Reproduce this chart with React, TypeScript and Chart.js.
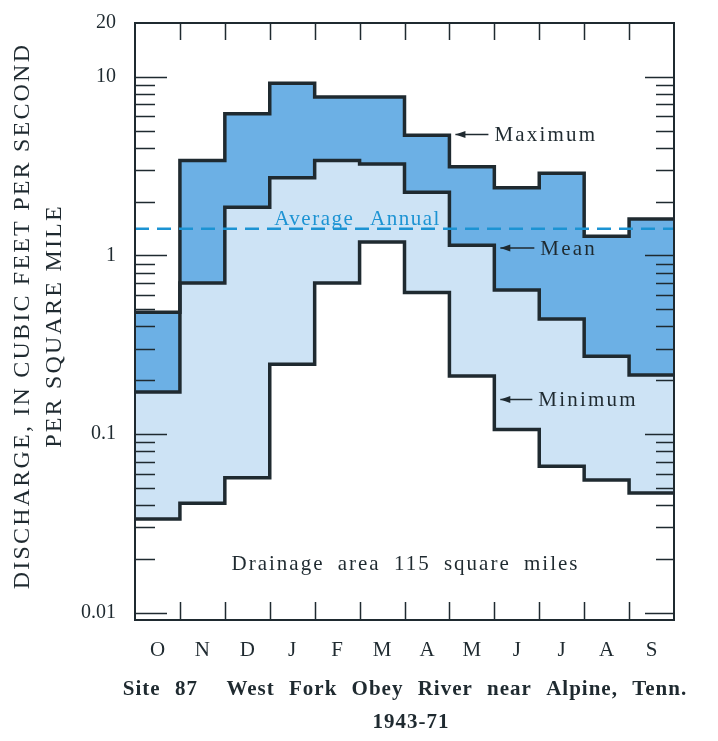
import React, { useEffect, useRef } from "react";
import { Chart, registerables } from "chart.js";

Chart.register(...registerables);

const months = ["O", "N", "D", "J", "F", "M", "A", "M", "J", "J", "A", "S"];
const maximum = [0.48, 3.4, 6.2, 9.2, 7.7, 7.7, 4.7, 3.14, 2.39, 2.88, 1.28, 1.6];
const mean = [0.172, 0.7, 1.86, 2.72, 3.4, 3.25, 2.26, 1.14, 0.64, 0.44, 0.273, 0.214];
const minimum = [0.0334, 0.041, 0.057, 0.246, 0.7, 1.19, 0.62, 0.211, 0.106, 0.066, 0.0553, 0.0467];
const averageAnnual = 1.41;
const yTickLabels = [0.01, 0.1, 1, 10, 20];
const minorTicks = [2, 3, 4, 5, 6, 7, 8, 9].flatMap((m) => [m * 0.01, m * 0.1, m]);

const SERIF = '"Liberation Serif", "DejaVu Serif", serif';
const INK = "#1f2a30";
const BLUE = "#1c93d3";

function stepPoints(vals: number[]) {
  const pts = vals.map((v, i) => ({ x: i, y: v }));
  pts.push({ x: vals.length, y: vals[vals.length - 1] });
  return pts;
}

const decorPlugin = {
  id: "decor",
  afterDatasetsDraw(chart: any) {
    const { ctx, chartArea, scales } = chart;
    const xs = scales.x;
    const ys = scales.y;
    const { left, right, top, bottom } = chartArea;
    ctx.save();
    ctx.strokeStyle = INK;
    ctx.lineWidth = 2;
    ctx.strokeRect(left, top, right - left, bottom - top);
    ctx.lineWidth = 1.5;
    for (let i = 1; i < months.length; i++) {
      const px = Math.round(xs.getPixelForValue(i)) + 0.5;
      ctx.beginPath();
      ctx.moveTo(px, top);
      ctx.lineTo(px, top + 17);
      ctx.moveTo(px, bottom);
      ctx.lineTo(px, bottom - 18);
      ctx.stroke();
    }
    [0.01, 0.1, 1, 10].forEach((v) => {
      const py = Math.round(ys.getPixelForValue(v)) + 0.5;
      ctx.beginPath();
      ctx.moveTo(left, py);
      ctx.lineTo(left + 32, py);
      ctx.moveTo(right, py);
      ctx.lineTo(right - 29, py);
      ctx.stroke();
    });
    minorTicks.forEach((v) => {
      const py = Math.round(ys.getPixelForValue(v)) + 0.5;
      ctx.beginPath();
      ctx.moveTo(left, py);
      ctx.lineTo(left + 20, py);
      ctx.moveTo(right, py);
      ctx.lineTo(right - 18, py);
      ctx.stroke();
    });

    const c = ctx as any;
    const arrow = (tipX: number, y: number, len: number, label: string) => {
      ctx.strokeStyle = INK;
      ctx.fillStyle = INK;
      ctx.lineWidth = 1.5;
      ctx.beginPath();
      ctx.moveTo(tipX, y);
      ctx.lineTo(tipX + len, y);
      ctx.stroke();
      ctx.beginPath();
      ctx.moveTo(tipX, y);
      ctx.lineTo(tipX + 10, y - 3.5);
      ctx.lineTo(tipX + 10, y + 3.5);
      ctx.closePath();
      ctx.fill();
      ctx.font = `21px ${SERIF}`;
      c.letterSpacing = "2.2px";
      ctx.textAlign = "left";
      ctx.textBaseline = "middle";
      ctx.fillText(label, tipX + len + 6, y + 1);
    };
    arrow(xs.getPixelForValue(7) + 6, ys.getPixelForValue(4.75), 33, "Maximum");
    arrow(xs.getPixelForValue(8) + 6, ys.getPixelForValue(1.1), 34, "Mean");
    arrow(xs.getPixelForValue(8) + 6, ys.getPixelForValue(0.156), 32, "Minimum");

    ctx.fillStyle = INK;
    ctx.font = `21px ${SERIF}`;
    c.letterSpacing = "2px";
    c.wordSpacing = "6px";
    ctx.textAlign = "center";
    ctx.textBaseline = "middle";
    ctx.fillText("Drainage area 115 square miles", xs.getPixelForValue(6) + 1, ys.getPixelForValue(0.0185));

    ctx.fillStyle = BLUE;
    ctx.font = `21px ${SERIF}`;
    c.letterSpacing = "1.5px";
    c.wordSpacing = "9px";
    ctx.textAlign = "left";
    ctx.textBaseline = "alphabetic";
    ctx.fillText("Average Annual", xs.getPixelForValue(3.1), ys.getPixelForValue(averageAnnual) - 4);

    ctx.fillStyle = INK;
    ctx.font = `bold 21px ${SERIF}`;
    c.letterSpacing = "1px";
    c.wordSpacing = "8px";
    ctx.textAlign = "center";
    ctx.textBaseline = "middle";
    ctx.fillText("Site 87  West Fork Obey River near Alpine, Tenn.", 405, 690);
    c.wordSpacing = "0px";
    ctx.fillText("1943-71", 411, 723);

    ctx.font = `24px ${SERIF}`;
    c.letterSpacing = "2.2px";
    ctx.save();
    ctx.translate(23, 316);
    ctx.rotate(-Math.PI / 2);
    ctx.fillText("DISCHARGE, IN CUBIC FEET PER SECOND", 0, 0);
    ctx.restore();
    ctx.save();
    ctx.translate(55, 326);
    ctx.rotate(-Math.PI / 2);
    ctx.fillText("PER SQUARE MILE", 0, 0);
    ctx.restore();
    ctx.restore();
  },
};

export default function App() {
  const ref = useRef<HTMLCanvasElement | null>(null);
  useEffect(() => {
    if (!ref.current) return;
    const lineStyle = {
      stepped: "before" as const,
      borderColor: INK,
      borderWidth: 3.5,
      pointRadius: 0,
      tension: 0,
    };
    const chart = new Chart(ref.current, {
      type: "line",
      data: {
        datasets: [
          {
            label: "Maximum",
            data: stepPoints(maximum),
            ...lineStyle,
            fill: "+1",
            backgroundColor: "#6cb0e5",
            order: 2,
          },
          {
            label: "Mean",
            data: stepPoints(mean),
            ...lineStyle,
            fill: "+1",
            backgroundColor: "#cde3f5",
            order: 2,
          },
          {
            label: "Minimum",
            data: stepPoints(minimum),
            ...lineStyle,
            fill: false,
            order: 2,
          },
          {
            label: "Average Annual",
            data: [
              { x: 0, y: averageAnnual },
              { x: months.length, y: averageAnnual },
            ],
            borderColor: BLUE,
            borderWidth: 2.5,
            borderDash: [14, 8],
            pointRadius: 0,
            fill: false,
            order: 1,
          },
        ],
      },
      options: {
        animation: false,
        responsive: false,
        maintainAspectRatio: false,
        layout: { padding: { top: 23, right: 44, left: 0, bottom: 0 } },
        plugins: {
          legend: { display: false },
          tooltip: { enabled: false },
          title: { display: false },
          filler: { drawTime: "beforeDatasetsDraw" },
        },
        scales: {
          x: {
            type: "linear",
            min: 0,
            max: months.length,
            grid: { display: false, drawTicks: false },
            border: { display: false },
            afterBuildTicks: (scale: any) => {
              scale.ticks = months.map((_, i) => ({ value: i + 0.5 }));
            },
            afterFit: (scale: any) => {
              scale.height = 121;
              scale.paddingLeft = 0;
              scale.paddingRight = 0;
            },
            ticks: {
              padding: 18,
              maxRotation: 0,
              autoSkip: false,
              color: INK,
              font: { family: SERIF, size: 21 },
              callback: (v: any) => months[Math.floor(Number(v))] ?? "",
            },
          },
          y: {
            type: "logarithmic",
            min: 0.0091,
            max: 20,
            grid: { display: false, drawTicks: false },
            border: { display: false },
            afterBuildTicks: (scale: any) => {
              scale.ticks = yTickLabels.map((v) => ({ value: v }));
            },
            afterFit: (scale: any) => {
              scale.width = 135;
              scale.paddingTop = 0;
              scale.paddingBottom = 0;
            },
            ticks: {
              padding: 19,
              autoSkip: false,
              color: INK,
              font: { family: SERIF, size: 20 },
              callback: (v: any) => String(Number(v)),
            },
          },
        },
      },
      plugins: [decorPlugin],
    } as any);
    return () => chart.destroy();
  }, []);
  return (
    <div style={{ position: "fixed", left: 0, top: 0, width: 718, height: 741, background: "#fff" }}>
      <canvas ref={ref} width={718} height={741} style={{ width: 718, height: 741 }} />
    </div>
  );
}
